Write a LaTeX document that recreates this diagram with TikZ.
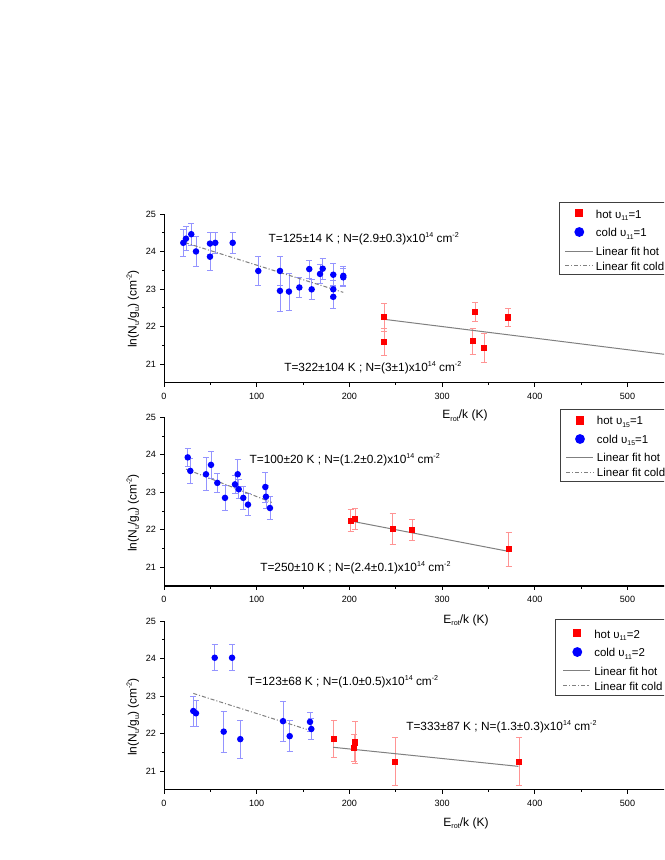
\documentclass[tikz,border=0pt]{standalone}
\usepackage{graphicx}
\usepackage{fontspec}
\setmainfont{Liberation Sans}
\newcommand{\sps}[1]{\raisebox{0.78ex}{\scalebox{0.6}{#1}}}
\newcommand{\sbs}[1]{\raisebox{-0.42ex}{\scalebox{0.6}{#1}}}
\tikzset{
  xaxline/.style={black, line width=1.0pt},
  yaxline/.style={black, line width=0.7pt},
  tickline/.style={black, line width=0.6pt},
  cerr/.style={blue!42, line width=0.6pt},
  herr/.style={red!42, line width=0.6pt},
  cdot/.style={circle, fill=blue, draw=none, inner sep=0pt, minimum size=4.9pt},
  hsq/.style={rectangle, fill=red, draw=none, inner sep=0pt, minimum size=4.6pt},
  legdot/.style={circle, fill=blue, draw=none, inner sep=0pt, minimum size=7.4pt},
  legsq/.style={rectangle, fill=red, draw=none, inner sep=0pt, minimum size=6.2pt},
  hotfit/.style={black!50, line width=0.75pt},
  coldfit/.style={black!50, line width=0.75pt, dash pattern=on 3pt off 1.5pt on 0.8pt off 1.5pt},
  ticklab/.style={font=\fontsize{6.8}{7.5}\selectfont, inner sep=0pt},
  annot/.style={font=\fontsize{8.9}{10.5}\selectfont, inner sep=0pt, anchor=base west},
  axlab/.style={font=\fontsize{9}{11}\selectfont, inner sep=0pt, anchor=base},
  legtext/.style={font=\fontsize{8.6}{10.5}\selectfont, inner sep=0pt, anchor=base west},
  legbox/.style={draw=black!75, line width=0.5pt},
}
\newcommand{\mypanelaxes}[1]{%
  \draw[xaxline] (0,20.5) -- (541,20.5);
  \draw[yaxline] (0,20.5) -- (0,25);
  \foreach \t in {0,100,...,500} {
    \draw[tickline] (\t,20.5) -- (\t,20.5-0.107);
    \node[ticklab, anchor=north] (#1x\t) at (\t,20.5-0.267) {\t};
  }
  \foreach \t in {50,150,...,450} {
    \draw[tickline] (\t,20.5) -- (\t,20.5-0.067);
  }
  \foreach \t in {21,...,25} {
    \draw[tickline] (0,\t) -- (-4.3,\t);
    \node[ticklab, anchor=east] (#1y\t) at (-8.4,\t) {\t};
  }
  \foreach \t in {21.5,22.5,23.5,24.5} {
    \draw[tickline] (0,\t) -- (-2.4,\t);
  }
}
\newcommand{\myerrbars}[2]{% style, list
  \foreach \e/\l/\d in #2 {
    \draw[#1] (\e,\l-\d) -- (\e,\l+\d)
      (\e-3.2,\l-\d) -- (\e+3.2,\l-\d)
      (\e-3.2,\l+\d) -- (\e+3.2,\l+\d);
  }%
}
\newcommand{\myplotmarks}[2]{%
  \foreach \e/\l/\d in #2 {
    \node[#1] at (\e,\l) {};
  }%
}
\newcommand{\ylabtext}{ln(N\sbs{u}/g\sbs{u}) (cm\sps{-2})}
\newcommand{\xlabtext}{E\sbs{rot}/k (K)}
\begin{document}
\begin{tikzpicture}[x=0.75pt, y=-0.75pt]
\useasboundingbox (0,0) rectangle (664,860);
\clip (0,0) rectangle (664,860);
\fill[white] (0,0) rectangle (664,860);

% ---------------- Panel 1 ----------------
\begin{scope}[shift={(164,1151.45)}, xscale=0.927, yscale=-37.5]
  \mypanelaxes{pa}
  \def\coldA{20.8/24.23/0.35, 23.7/24.34/0.32, 29.4/24.46/0.3, 34.5/24.00/0.41,
    49.6/24.21/0.3, 49.6/23.86/0.37, 55.3/24.23/0.29, 74.1/24.23/0.29,
    101.7/23.48/0.38, 125.1/23.48/0.38, 125.1/22.95/0.56, 134.8/22.93/0.49,
    146.0/23.04/0.27, 156.7/23.53/0.24, 159.3/22.99/0.26, 168.3/23.40/0.26,
    171.2/23.54/0.28, 182.6/23.38/0.3, 182.6/22.99/0.25, 182.6/22.79/0.3,
    193.4/23.35/0.25, 193.4/23.31/0.25}
  \def\hotA{237.3/22.25/0.37, 237.3/21.59/0.37, 335.5/22.39/0.245,
    333.0/21.61/0.35, 345.2/21.43/0.39, 371.4/22.24/0.24}
  \myerrbars{cerr}{\coldA}
  \myerrbars{herr}{\hotA}
  \coordinate (c1s) at (22.7,24.30);
  \coordinate (c1e) at (193.4,22.97);
  \coordinate (h1s) at (237.3,22.25);
  \coordinate (h1e) at (541,21.31);
  \draw[coldfit] (c1s) -- (c1e);
  \draw[hotfit] (h1s) -- (h1e);
  \myplotmarks{cdot}{\coldA}
  \myplotmarks{hsq}{\hotA}
\end{scope}
\node[axlab, rotate=90] (ylab1) at (136.5,309) {\ylabtext};
\node[axlab] (xlab1) at (465,418.7) {\xlabtext};
\node[annot] (a1) at (268.3,242.5) {T=125±14 K ; N=(2.9±0.3)x10\sps{14} cm\sps{-2}};
\node[annot] (a2) at (284,371.3) {T=322±104 K ; N=(3±1)x10\sps{14} cm\sps{-2}};
% legend 1
\draw[legbox] (559.3,202.3) rectangle (690,274.3);
\node[legsq] (l1a) at (579,213.3) {};
\node[legtext] (l1at) at (595.7,218.3) {hot υ\sbs{11}=1};
\node[legdot] (l1b) at (579.3,232) {};
\node[legtext] (l1bt) at (595.7,236.7) {cold υ\sbs{11}=1};
\coordinate (l1c1) at (565,251); \coordinate (l1c2) at (593,251);
\draw[hotfit] (l1c1) -- (l1c2);
\node[legtext] (l1ct) at (595.7,255.7) {Linear fit hot};
\coordinate (l1d1) at (565,265.3); \coordinate (l1d2) at (593,265.3);
\draw[coldfit] (l1d1) -- (l1d2);
\node[legtext] (l1dt) at (595.7,270) {Linear fit cold};

% ---------------- Panel 2 ----------------
\begin{scope}[shift={(164,1354.75)}, xscale=0.927, yscale=-37.5]
  \mypanelaxes{pb}
  \def\coldB{25.6/23.93/0.24, 28.4/23.57/0.34, 45.3/23.48/0.44, 50.7/23.73/0.36,
    57.5/23.25/0.25, 65.8/22.85/0.33, 76.6/23.21/0.25, 79.5/23.48/0.4,
    80.6/23.08/0.25, 85.5/22.85/0.3, 90.6/22.67/0.3, 109.3/23.14/0.4,
    110.0/22.88/0.3, 114.3/22.58/0.3}
  \def\hotB{201.4/22.24/0.29, 206.0/22.28/0.28, 246.7/22.02/0.42,
    267.5/21.99/0.28, 371.8/21.48/0.45}
  \myerrbars{cerr}{\coldB}
  \myerrbars{herr}{\hotB}
  \coordinate (c2s) at (23.7,23.68);
  \coordinate (c2e) at (116.2,22.79);
  \coordinate (h2s) at (204,22.28);
  \coordinate (h2e) at (371.8,21.48);
  \draw[coldfit] (c2s) -- (c2e);
  \draw[hotfit] (h2s) -- (h2e);
  \myplotmarks{cdot}{\coldB}
  \myplotmarks{hsq}{\hotB}
\end{scope}
\node[axlab, rotate=90] (ylab2) at (136.5,513) {\ylabtext};
\node[axlab] (xlab2) at (466,623) {\xlabtext};
\node[annot] (b1) at (249.3,463.3) {T=100±20 K ; N=(1.2±0.2)x10\sps{14} cm\sps{-2}};
\node[annot] (b2) at (260,571) {T=250±10 K ; N=(2.4±0.1)x10\sps{14} cm\sps{-2}};
% legend 2
\draw[legbox] (560.7,409.3) rectangle (690,481);
\node[legsq] (l2a) at (580,420.6) {};
\node[legtext] (l2at) at (596.7,424.9) {hot υ\sbs{15}=1};
\node[legdot] (l2b) at (580,439) {};
\node[legtext] (l2bt) at (596.7,443.3) {cold υ\sbs{15}=1};
\coordinate (l2c1) at (566,457.3); \coordinate (l2c2) at (593.3,457.3);
\draw[hotfit] (l2c1) -- (l2c2);
\node[legtext] (l2ct) at (596.7,461.7) {Linear fit hot};
\coordinate (l2d1) at (566,472.3); \coordinate (l2d2) at (593.3,472.3);
\draw[coldfit] (l2d1) -- (l2d2);
\node[legtext] (l2dt) at (596.7,476.7) {Linear fit cold};

% ---------------- Panel 3 ----------------
\begin{scope}[shift={(164,1558.5)}, xscale=0.927, yscale=-37.5]
  \mypanelaxes{pc}
  \def\coldC{31.6/22.60/0.4, 34.5/22.54/0.35, 54.7/24.02/0.35, 73.4/24.02/0.35,
    64.4/22.05/0.55, 82.3/21.85/0.51, 128.4/22.33/0.53, 135.6/21.93/0.41,
    157.5/22.31/0.25, 158.9/22.12/0.27}
  \def\hotC{183.1/21.85/0.5, 205.0/21.62/0.36, 206.4/21.76/0.55,
    249.5/21.25/0.64, 383.3/21.25/0.64}
  \myerrbars{cerr}{\coldC}
  \myerrbars{herr}{\hotC}
  \coordinate (c3s) at (31.6,23.13);
  \coordinate (c3e) at (153.9,22.17);
  \coordinate (h3s) at (182.6,21.69);
  \coordinate (h3e) at (382.3,21.18);
  \draw[coldfit] (c3s) -- (c3e);
  \draw[hotfit] (h3s) -- (h3e);
  \myplotmarks{cdot}{\coldC}
  \myplotmarks{hsq}{\hotC}
\end{scope}
\node[axlab, rotate=90] (ylab3) at (136.5,717) {\ylabtext};
\node[axlab] (xlab3) at (466,826) {\xlabtext};
\node[annot] (d1) at (247.7,685.7) {T=123±68 K ; N=(1.0±0.5)x10\sps{14} cm\sps{-2}};
\node[annot] (d2) at (406,730.7) {T=333±87 K ; N=(1.3±0.3)x10\sps{14} cm\sps{-2}};
% legend 3
\draw[legbox] (555.3,619.3) rectangle (690,695);
\node[legsq] (l3a) at (577.3,633.3) {};
\node[legtext] (l3at) at (594,638.3) {hot υ\sbs{11}=2};
\node[legdot] (l3b) at (577.3,652) {};
\node[legtext] (l3bt) at (594,656.7) {cold υ\sbs{11}=2};
\coordinate (l3c1) at (563.3,670.7); \coordinate (l3c2) at (590,670.7);
\draw[hotfit] (l3c1) -- (l3c2);
\node[legtext] (l3ct) at (594,675.7) {Linear fit hot};
\coordinate (l3d1) at (563.3,685.3); \coordinate (l3d2) at (590,685.3);
\draw[coldfit] (l3d1) -- (l3d2);
\node[legtext] (l3dt) at (594,690) {Linear fit cold};
\end{tikzpicture}
\end{document}
